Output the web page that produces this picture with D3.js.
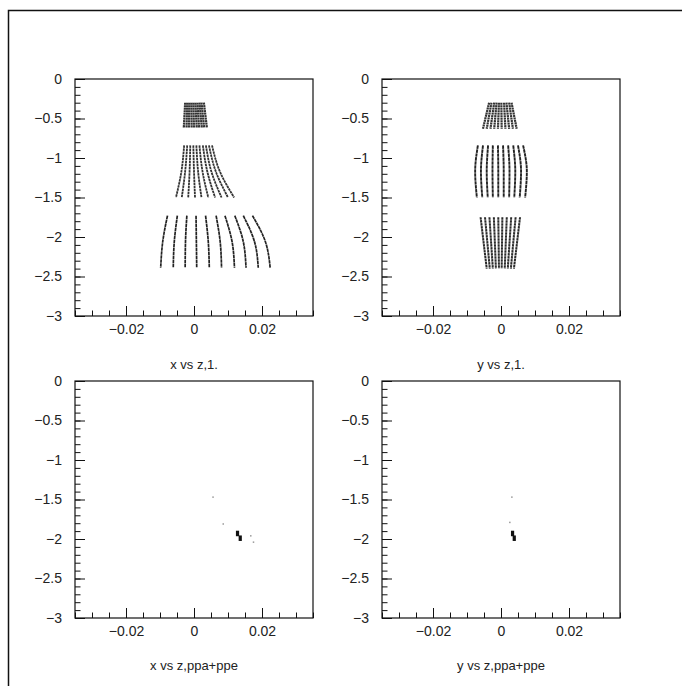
<!DOCTYPE html>
<html>
<head>
<meta charset="utf-8">
<script src="https://cdn.jsdelivr.net/npm/d3@7"></script>
<style>
  html, body { margin: 0; padding: 0; background: #fff; }
  svg { display: block; }
</style>
</head>
<body>
<svg id="chart" width="682" height="686"></svg>
<script>
    "use strict";

    // axis ticks shared by all four pads
    var xDomain = [-0.035, 0.035];
    var zDomain = [-3, 0];
    var xTickValues = [-0.02, 0, 0.02];
    var xTickLabels = ["\u22120.02", "0", "0.02"];
    var zTickValues = [0, -0.5, -1, -1.5, -2, -2.5, -3];
    var zTickLabels = ["0", "\u22120.5", "\u22121", "\u22121.5", "\u22122", "\u22122.5", "\u22123"];
    var padTitles = ["x vs z,1.", "y vs z,1.", "x vs z,ppa+ppe", "y vs z,ppa+ppe"];

    // x vs z, all hits : each group is 10 strips, read at the listed z levels
    var xzInnerZ = [-0.30, -0.62];
    var xzInnerTop = [-0.0026, -0.0020, -0.0014, -0.0008, -0.0002, 0.0004, 0.0010, 0.0016, 0.0022, 0.0029];
    var xzInnerBot = [-0.0030, -0.0022, -0.0015, -0.0007, 0.0000, 0.0008, 0.0015, 0.0023, 0.0030, 0.0038];

    var xzMiddleZ = [-0.84, -1.17, -1.50];
    var xzMiddleTop = [-0.0029, -0.0020, -0.0011, -0.0002, 0.0007, 0.0016, 0.0026, 0.0035, 0.0044, 0.0053];
    var xzMiddleMid = [-0.0037, -0.0026, -0.0013, 0.0000, 0.0012, 0.0025, 0.0039, 0.0051, 0.0064, 0.0076];
    var xzMiddleBot = [-0.0053, -0.0036, -0.0017, 0.0003, 0.0022, 0.0042, 0.0062, 0.0081, 0.0100, 0.0118];

    var xzOuterZ = [-1.73, -2.06, -2.39];
    var xzOuterTop = [-0.0078, -0.0049, -0.0021, 0.0006, 0.0034, 0.0065, 0.0091, 0.0120, 0.0145, 0.0172];
    var xzOuterMid = [-0.0092, -0.0058, -0.0025, 0.0007, 0.0042, 0.0077, 0.0112, 0.0145, 0.0178, 0.0210];
    var xzOuterBot = [-0.0098, -0.0061, -0.0026, 0.0008, 0.0045, 0.0081, 0.0119, 0.0153, 0.0189, 0.0224];

    // y vs z, all hits
    var yzInnerZ = [-0.30, -0.63];
    var yzInnerTop = [-0.0035, -0.0028, -0.0020, -0.0013, -0.0006, 0.0001, 0.0009, 0.0016, 0.0024, 0.0031];
    var yzInnerBot = [-0.0053, -0.0042, -0.0031, -0.0020, -0.0009, 0.0002, 0.0013, 0.0024, 0.0035, 0.0046];

    var yzMiddleZ = [-0.84, -1.17, -1.50];
    var yzMiddleTop = [-0.0068, -0.0053, -0.0038, -0.0024, -0.0009, 0.0006, 0.0021, 0.0036, 0.0050, 0.0065];
    var yzMiddleMid = [-0.0076, -0.0059, -0.0042, -0.0025, -0.0008, 0.0008, 0.0025, 0.0042, 0.0059, 0.0076];
    var yzMiddleBot = [-0.0071, -0.0055, -0.0039, -0.0024, -0.0008, 0.0008, 0.0024, 0.0039, 0.0055, 0.0071];

    var yzOuterZ = [-1.75, -2.40];
    var yzOuterTop = [-0.0060, -0.0047, -0.0034, -0.0021, -0.0008, 0.0004, 0.0017, 0.0030, 0.0043, 0.0056];
    var yzOuterBot = [-0.0042, -0.0033, -0.0024, -0.0015, -0.0006, 0.0002, 0.0011, 0.0020, 0.0029, 0.0038];

    // ppa+ppe hits : dense cells and isolated hits
    var ppaXCoreX = [0.0128, 0.0136];
    var ppaXCoreZ = [-1.93, -1.99];
    var ppaXStrayX = [0.0056, 0.0086, 0.0167, 0.0175];
    var ppaXStrayZ = [-1.47, -1.81, -1.96, -2.04];
    var ppaYCoreY = [0.0034, 0.0039];
    var ppaYCoreZ = [-1.93, -1.99];
    var ppaYStrayY = [0.0032, 0.0026];
    var ppaYStrayZ = [-1.47, -1.79];

    var W = 238, H = 237;
    var pads = [
        { left: 75,  top: 79,  titleY: 366 },
        { left: 382, top: 79,  titleY: 366 },
        { left: 75,  top: 381, titleY: 667 },
        { left: 382, top: 381, titleY: 667 }
    ];

    var FONT = "'Liberation Sans', Arial, sans-serif";
    var svg = d3.select("#chart");

    // outer page frame (only top and left edges are in view)
    svg.append("path")
        .attr("d", "M8.5,686V10.5H682")
        .attr("fill", "none")
        .attr("stroke", "#111")
        .attr("stroke-width", 1.5);

    var x = d3.scaleLinear().domain(xDomain).range([0, W]);
    var z = d3.scaleLinear().domain(zDomain).range([H, 0]);

    // turn column arrays into 10 strips of [x, z] points
    var makeStrips = function (zLevels, columns) {
        return columns[0].map(function (d, i) {
            return zLevels.map(function (zv, k) {
                return [columns[k][i], zv];
            });
        });
    };

    var line = d3.line()
        .x(function (d) { return x(d[0]); })
        .y(function (d) { return z(d[1]); })
        .curve(d3.curveMonotoneY);

    var drawPad = function (pad, i) {
        var g = svg.append("g")
            .attr("transform", "translate(" + pad.left + "," + pad.top + ")");

        // minor ticks
        g.append("g")
            .attr("transform", "translate(0," + H + ")")
            .call(d3.axisBottom(x).ticks(14).tickSize(-5.5).tickFormat(""))
            .call(function (a) { a.select(".domain").remove(); });
        g.append("g")
            .call(d3.axisLeft(z).ticks(30).tickSize(-5.5).tickFormat(""))
            .call(function (a) { a.select(".domain").remove(); });

        // major ticks with labels
        var xa = g.append("g")
            .attr("transform", "translate(0," + H + ")")
            .call(d3.axisBottom(x).tickValues(xTickValues)
                .tickFormat(function (d, j) { return xTickLabels[j]; })
                .tickSize(-10).tickPadding(8));
        var za = g.append("g")
            .call(d3.axisLeft(z).tickValues(zTickValues)
                .tickFormat(function (d, j) { return zTickLabels[j]; })
                .tickSize(-10).tickPadding(13));

        [xa, za].forEach(function (a) {
            a.select(".domain").remove();
            a.attr("font-family", FONT).attr("font-size", 14);
            a.selectAll("text").attr("fill", "#222");
        });
        g.selectAll(".tick line").attr("stroke", "#111");

        g.append("rect")
            .attr("width", W)
            .attr("height", H)
            .attr("fill", "none")
            .attr("stroke", "#111")
            .attr("stroke-width", 1.2);

        svg.append("text")
            .attr("x", pad.left + W / 2)
            .attr("y", pad.titleY)
            .attr("text-anchor", "middle")
            .attr("dominant-baseline", "middle")
            .attr("font-family", FONT)
            .attr("font-size", 13)
            .attr("fill", "#222")
            .text(padTitles[i]);

        return g;
    };

    var drawStrips = function (g, strips, width, dash, color) {
        g.append("g")
            .selectAll("path")
            .data(strips)
            .enter()
            .append("path")
            .attr("d", line)
            .attr("fill", "none")
            .attr("stroke", color)
            .attr("stroke-width", width)
            .attr("stroke-dasharray", dash);
    };

    var drawHits = function (g, xs, zs, w, h, color) {
        g.append("g")
            .selectAll("rect")
            .data(xs)
            .enter()
            .append("rect")
            .attr("x", function (d) { return x(d) - w / 2; })
            .attr("y", function (d, j) { return z(zs[j]) - h / 2; })
            .attr("width", w)
            .attr("height", h)
            .attr("fill", color);
    };

    var g1 = drawPad(pads[0], 0);
    drawStrips(g1, makeStrips(xzInnerZ, [xzInnerTop, xzInnerBot]), 2.2, "2 0.5", "#333");
    drawStrips(g1, makeStrips(xzMiddleZ, [xzMiddleTop, xzMiddleMid, xzMiddleBot]), 1.8, "2.5 0.6", "#333");
    drawStrips(g1, makeStrips(xzOuterZ, [xzOuterTop, xzOuterMid, xzOuterBot]), 1.7, "3.5 0.5", "#222");

    var g2 = drawPad(pads[1], 1);
    drawStrips(g2, makeStrips(yzInnerZ, [yzInnerTop, yzInnerBot]), 2.2, "2 0.5", "#333");
    drawStrips(g2, makeStrips(yzMiddleZ, [yzMiddleTop, yzMiddleMid, yzMiddleBot]), 1.9, "3.5 0.5", "#222");
    drawStrips(g2, makeStrips(yzOuterZ, [yzOuterTop, yzOuterBot]), 2, "2.5 0.5", "#2a2a2a");

    var g3 = drawPad(pads[2], 2);
    drawHits(g3, ppaXStrayX, ppaXStrayZ, 1.5, 1.5, "#999");
    drawHits(g3, ppaXCoreX, ppaXCoreZ, 3.2, 5.5, "#111");

    var g4 = drawPad(pads[3], 3);
    drawHits(g4, ppaYStrayY, ppaYStrayZ, 1.5, 1.5, "#999");
    drawHits(g4, ppaYCoreY, ppaYCoreZ, 3.2, 5.5, "#111");
</script>
</body>
</html>
